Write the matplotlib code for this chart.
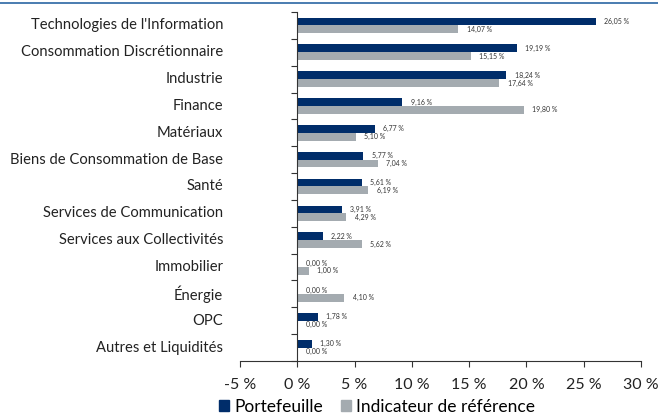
import matplotlib
matplotlib.use("Agg")

import matplotlib.pyplot as plt
import numpy as np
from matplotlib.lines import Line2D
from matplotlib.patches import Patch

categories = [
    "Technologies de l'Information",
    "Consommation Discrétionnaire",
    "Industrie",
    "Finance",
    "Matériaux",
    "Biens de Consommation de Base",
    "Santé",
    "Services de Communication",
    "Services aux Collectivités",
    "Immobilier",
    "Énergie",
    "OPC",
    "Autres et Liquidités",
]
portefeuille = [26.05, 19.19, 18.24, 9.16, 6.77, 5.77, 5.61, 3.91, 2.22, 0.00, 0.00, 1.78, 1.30]
indicateur = [14.07, 15.15, 17.64, 19.80, 5.10, 7.04, 6.19, 4.29, 5.62, 1.00, 4.10, 0.00, 0.00]
xticks = [-5, 0, 5, 10, 15, 20, 25, 30]

navy = "#002d6a"
grey = "#a4abb0"

plt.rcParams["font.family"] = ["Lato", "DejaVu Sans"]

fig = plt.figure(figsize=(6.58, 4.18), dpi=100)
ax = fig.add_axes([0.3647, 0.1364, 0.6094, 0.8349])

n = len(categories)
y = np.arange(n)
h = 0.29

ax.barh(y - h / 2, portefeuille, height=h, color=navy)
ax.barh(y + h / 2, indicateur, height=h, color=grey)


def fmt(v):
    return f"{v:.2f} %".replace(".", ",")


for i in range(n):
    ax.annotate(fmt(portefeuille[i]), (portefeuille[i], i - h / 2), xytext=(6, 0),
                textcoords="offset points", va="center", ha="left", fontsize=5, color="#333333")
    ax.annotate(fmt(indicateur[i]), (indicateur[i], i + h / 2), xytext=(6, 0),
                textcoords="offset points", va="center", ha="left", fontsize=5, color="#333333")

ax.set_xlim(-5, 30)
ax.set_ylim(n - 0.5, -0.5)

ax.set_xticks(xticks)
ax.set_xticklabels([f"{t} %" for t in xticks], fontsize=11.5, color="#222222")
ax.tick_params(axis="x", length=4, width=0.8, color="#333333", pad=8)

# category boundaries as ticks on the 0 axis, names on the left
ax.set_yticks(np.arange(n + 1) - 0.5)
ax.set_yticklabels([])
ax.tick_params(axis="y", length=4, width=0.8, color="#333333")
for i, name in enumerate(categories):
    ax.text(-0.042, i, name, transform=ax.get_yaxis_transform(), ha="right", va="center",
            fontsize=10.6, color="#222222")

for s in ["top", "right"]:
    ax.spines[s].set_visible(False)
ax.spines["left"].set_position(("data", 0))
ax.spines["left"].set_color("#333333")
ax.spines["bottom"].set_color("#333333")
ax.spines["left"].set_linewidth(0.8)
ax.spines["bottom"].set_linewidth(0.8)

fig.add_artist(Line2D([0, 1], [0.993, 0.993], transform=fig.transFigure, color="#2a66a3", lw=1.2))

handles = [Patch(color=navy), Patch(color=grey)]
fig.legend(handles, ["Portefeuille", "Indicateur de référence"], loc="lower center",
           bbox_to_anchor=(0.573, -0.03), ncol=2, frameon=False, fontsize=12.5,
           handlelength=0.6, handleheight=0.6, handletextpad=0.3, columnspacing=1.0)

fig.savefig("out.png", dpi=100)
